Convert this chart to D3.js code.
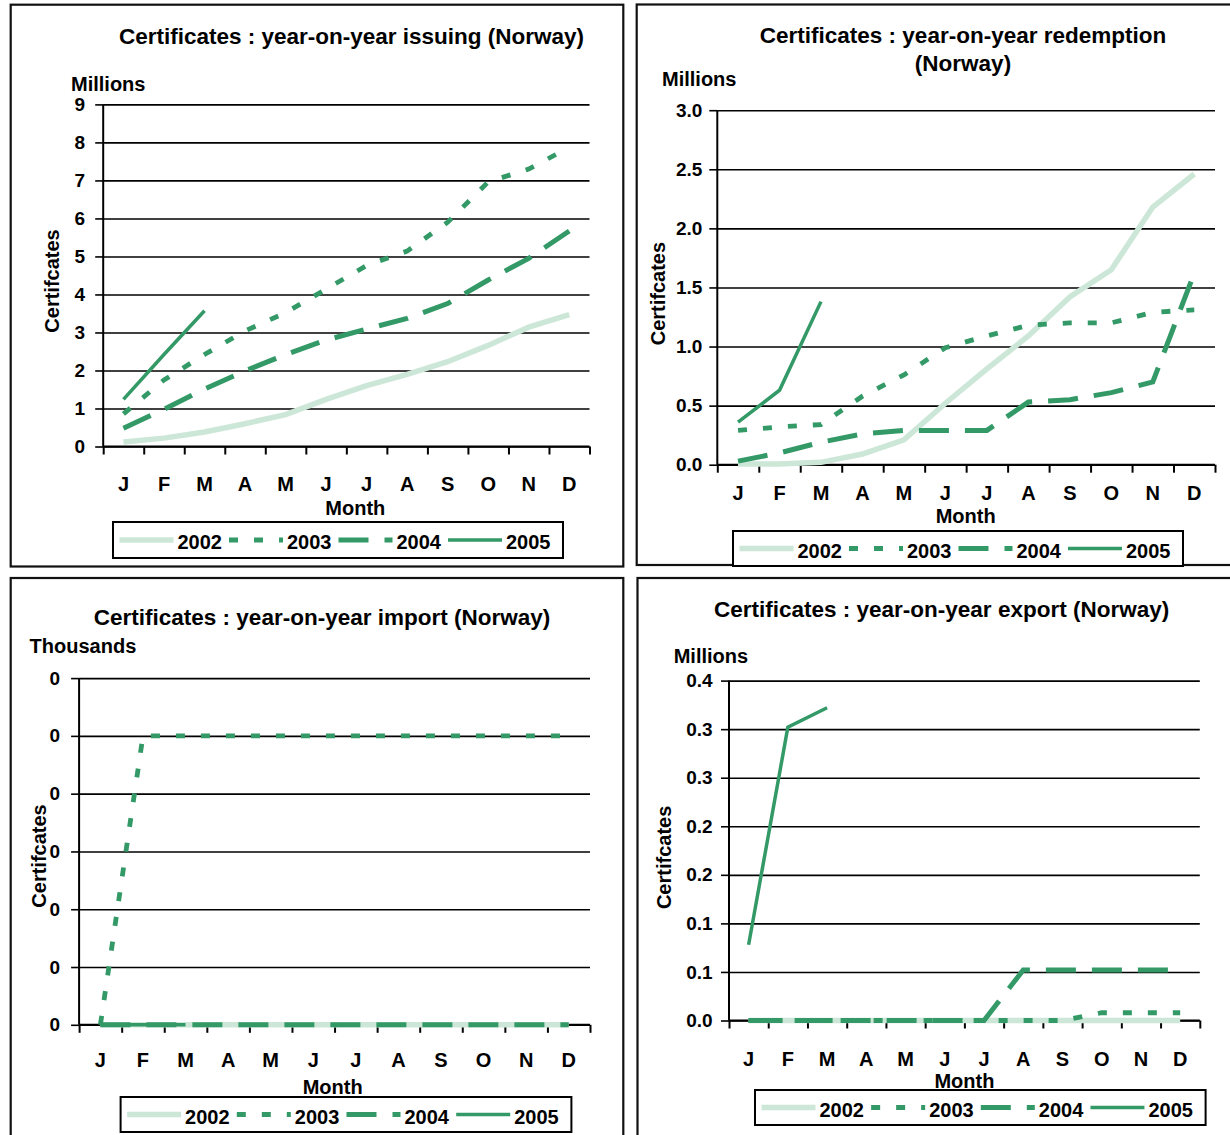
<!DOCTYPE html>
<html>
<head>
<meta charset="utf-8">
<script src="https://cdn.jsdelivr.net/npm/d3@7"></script>
<style>
  html, body { margin: 0; padding: 0; background: #fff; }
  svg text { font-family: "Liberation Sans", Arial, sans-serif; font-weight: bold; fill: #000; }
</style>
</head>
<body>
<svg id="chart" width="1230" height="1135"></svg>
<script>
// ---------- DATA ----------
const months = ["J","F","M","A","M","J","J","A","S","O","N","D"];
const years = ["2002","2003","2004","2005"];

// Issuing (millions)
const issuing2002 = [0.12,0.22,0.38,0.60,0.84,1.24,1.60,1.90,2.23,2.66,3.14,3.47];
const issuing2003 = [0.86,1.75,2.42,3.04,3.52,4.14,4.76,5.14,5.90,6.96,7.30,7.87];
const issuing2004 = [0.48,0.98,1.51,1.99,2.42,2.80,3.09,3.37,3.76,4.38,4.95,5.67];
const issuing2005 = [1.24,2.42,3.57];

// Redemption (millions)
const redemption2002 = [0.005,0.005,0.02,0.09,0.21,0.52,0.81,1.09,1.42,1.65,2.18,2.46];
const redemption2003 = [0.29,0.32,0.34,0.58,0.76,0.99,1.09,1.18,1.20,1.20,1.29,1.31];
const redemption2004 = [0.03,0.10,0.19,0.26,0.29,0.29,0.29,0.53,0.55,0.61,0.70,1.62];
const redemption2005 = [0.36,0.63,1.38];

// Import (thousands)
const import2002 = [0,0,0,0,0,0,0,0,0,0,0,0];
const import2003 = [0,0.001,0.001,0.001,0.001,0.001,0.001,0.001,0.001,0.001,0.001,0.001];
const import2004 = [0,0,0,0,0,0,0,0,0,0,0,0];
const import2005 = [0,0,0];

// Export (millions)
const export2002 = [0,0,0,0,0,0,0,0,0,0,0,0];
const export2003 = [0,0,0,0,0,0,0,0,0,0.008,0.008,0.008];
const export2004 = [0,0,0,0,0,0,0,0.052,0.052,0.052,0.052,0.052];
const export2005 = [0.078,0.302,0.322];

// Tick values
const issuingTicks = [0,1,2,3,4,5,6,7,8,9];
const redemptionTicks = [0,0.5,1.0,1.5,2.0,2.5,3.0];
const importTicks = [0,0.0002,0.0004,0.0006,0.0008,0.001,0.0012];
const exportTicks = [0,0.05,0.10,0.15,0.20,0.25,0.30,0.35];

// ---------- STYLES ----------
const GREEN = "#339966";
const LIGHT = "#cce7d7";
const seriesStyle = {
  "2002": {color: LIGHT, width: 5.5, dash: null},
  "2003": {color: GREEN, width: 4.8, dash: "9,16"},
  "2004": {color: GREEN, width: 5, dash: "30,16"},
  "2005": {color: GREEN, width: 3.5, dash: null}
};

const fmtInt = v => d3.format(".0f")(v);
const fmt1 = v => d3.format(".1f")(v);
const fmtHalfUp = v => (Math.round(v * 10 + 1e-9) / 10).toFixed(1);

const panels = [
  {
    border: [10.7, 4.7, 623.3, 566.5],
    title: [{t: "Certificates : year-on-year issuing (Norway)", x: 351.5, y: 44.4}],
    unit: {t: "Millions", x: 71, y: 91},
    plot: {x0: 103.2, x1: 589.5, y0: 104.4, y1: 446.5},
    domain: [0, 9], ticks: issuingTicks, fmt: fmtInt, pad: 10,
    monthY: 491, monthLabel: {x: 355.3, y: 514.5},
    yLabel: {x: 59.3, y: 281},
    legend: [113, 522, 563, 558],
    series: [issuing2002, issuing2003, issuing2004, issuing2005]
  },
  {
    border: [636.7, 4.5, 1232, 565],
    title: [{t: "Certificates : year-on-year redemption", x: 963, y: 42.9},
            {t: "(Norway)", x: 963, y: 71}],
    unit: {t: "Millions", x: 662, y: 85.8},
    plot: {x0: 717.3, x1: 1215, y0: 110.2, y1: 464.7},
    domain: [0, 3], ticks: redemptionTicks, fmt: fmt1, pad: 7,
    monthY: 499.5, monthLabel: {x: 965.7, y: 522.5},
    yLabel: {x: 664.7, y: 293.6},
    legend: [733, 531, 1183, 566],
    series: [redemption2002, redemption2003, redemption2004, redemption2005]
  },
  {
    border: [10.7, 578, 623.3, 1140],
    title: [{t: "Certificates : year-on-year import (Norway)", x: 322, y: 624.8}],
    unit: {t: "Thousands", x: 29.6, y: 652.9},
    plot: {x0: 79.1, x1: 590, y0: 678.1, y1: 1024.8},
    domain: [0, 0.0012], ticks: importTicks, fmt: fmtInt, pad: 11,
    monthY: 1066.6, monthLabel: {x: 332.7, y: 1094},
    yLabel: {x: 45.5, y: 856},
    legend: [120.6, 1097, 571.4, 1132],
    series: [import2002, import2003, import2004, import2005]
  },
  {
    border: [637.5, 578, 1232, 1140],
    title: [{t: "Certificates : year-on-year export (Norway)", x: 941.6, y: 616.8}],
    unit: {t: "Millions", x: 673.7, y: 663},
    plot: {x0: 729, x1: 1199.8, y0: 680.6, y1: 1020.5},
    domain: [0, 0.35], ticks: exportTicks, fmt: fmtHalfUp, pad: 8.4,
    monthY: 1065.5, monthLabel: {x: 964.4, y: 1088},
    yLabel: {x: 670.6, y: 857.4},
    legend: [755, 1090, 1205.6, 1125],
    series: [export2002, export2003, export2004, export2005]
  }
];

const svg = d3.select("#chart");

panels.forEach(p => {
  const g = svg.append("g");
  const [bx0, by0, bx1, by1] = p.border;
  g.append("rect").attr("x", bx0).attr("y", by0)
    .attr("width", bx1 - bx0).attr("height", by1 - by0)
    .attr("fill", "#fff").attr("stroke", "#111").attr("stroke-width", 2.2);

  p.title.forEach(t => g.append("text").attr("x", t.x).attr("y", t.y)
    .attr("text-anchor", "middle").style("font-size", "22.5px").text(t.t));

  g.append("text").attr("x", p.unit.x).attr("y", p.unit.y)
    .style("font-size", "20px").text(p.unit.t);

  const {x0, x1, y0, y1} = p.plot;
  const x = d3.scaleBand().domain(d3.range(12)).range([x0, x1]).padding(0);
  const xb = d3.scaleLinear().domain([0, 12]).range([x0, x1]);
  const y = d3.scaleLinear().domain(p.domain).range([y1, y0]);

  // gridlines
  g.append("g").attr("transform", `translate(${x0},0)`)
    .call(d3.axisLeft(y).tickValues(p.ticks).tickSize(-(x1 - x0)).tickFormat(""))
    .call(a => a.select(".domain").remove())
    .call(a => a.selectAll("line").attr("stroke", "#000").attr("stroke-width", 1.6));

  // y axis
  const ya = g.append("g").attr("transform", `translate(${x0},0)`)
    .call(d3.axisLeft(y).tickValues(p.ticks).tickSize(8).tickPadding(p.pad).tickFormat(p.fmt));
  ya.attr("font-size", null).attr("font-family", null);
  ya.select(".domain").attr("stroke", "#000").attr("stroke-width", 2)
    .attr("d", `M0,${y1}V${y0}`);
  ya.selectAll("line").attr("stroke", "#000").attr("stroke-width", 1.6);
  ya.selectAll("text").style("font-size", "19px")
    .style("font-family", "'Liberation Sans', Arial, sans-serif")
    .style("font-weight", "bold").attr("fill", "#000");

  // x axis (boundary ticks)
  const xa = g.append("g").attr("transform", `translate(0,${y1})`)
    .call(d3.axisBottom(xb).tickValues(d3.range(13)).tickSize(8).tickFormat(""));
  xa.select(".domain").attr("stroke", "#000").attr("stroke-width", 2)
    .attr("d", `M${x0},0H${x1}`);
  xa.selectAll("line").attr("stroke", "#000").attr("stroke-width", 2);

  // month labels
  g.append("g").selectAll("text").data(months).join("text")
    .attr("x", (d, i) => x(i) + x.bandwidth() / 2)
    .attr("y", p.monthY)
    .attr("text-anchor", "middle").style("font-size", "20px").text(d => d);

  g.append("text").attr("x", p.monthLabel.x).attr("y", p.monthLabel.y)
    .attr("text-anchor", "middle").style("font-size", "20px").text("Month");

  g.append("text").attr("transform", `translate(${p.yLabel.x},${p.yLabel.y}) rotate(-90)`)
    .attr("text-anchor", "middle").style("font-size", "20px").text("Certifcates");

  // series lines
  const line = d3.line().x((d, i) => x(i) + x.bandwidth() / 2).y(d => y(d));
  p.series.forEach((vals, k) => {
    const st = seriesStyle[years[k]];
    g.append("path").datum(vals).attr("d", line)
      .attr("fill", "none").attr("stroke", st.color).attr("stroke-width", st.width)
      .attr("stroke-dasharray", st.dash).attr("stroke-linejoin", "miter")
      .attr("stroke-linecap", "butt");
  });

  // legend
  const [lx0, ly0, lx1, ly1] = p.legend;
  g.append("rect").attr("x", lx0).attr("y", ly0).attr("width", lx1 - lx0).attr("height", ly1 - ly0)
    .attr("fill", "#fff").attr("stroke", "#000").attr("stroke-width", 2);
  const lc = (ly0 + ly1) / 2;
  const step = (lx1 - lx0 - 12) / 4;
  years.forEach((yr, k) => {
    const st = seriesStyle[yr];
    const sx = lx0 + 6.5 + k * step;
    g.append("line").attr("x1", sx).attr("x2", sx + 54).attr("y1", lc).attr("y2", lc)
      .attr("stroke", st.color).attr("stroke-width", st.width).attr("stroke-dasharray", st.dash);
    g.append("text").attr("x", sx + 58).attr("y", lc + 9).style("font-size", "20px").text(yr);
  });
});
</script>
</body>
</html>
